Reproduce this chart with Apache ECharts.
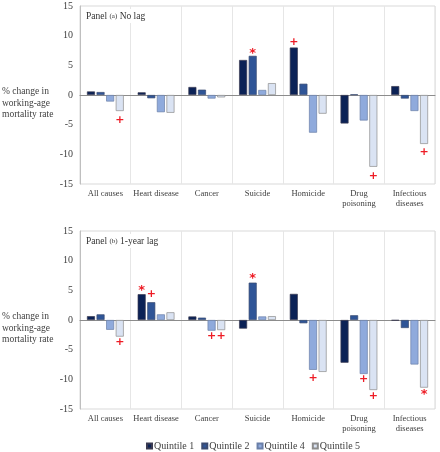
<!DOCTYPE html>
<html><head><meta charset="utf-8">
<script src="https://cdn.jsdelivr.net/npm/echarts@6/dist/echarts.min.js"></script>
<style>html,body{margin:0;padding:0;background:#fff}#c{width:440px;height:452px}</style>
</head><body><div id="c"></div>
<script>
var categories = ['All causes', 'Heart disease', 'Cancer', 'Suicide', 'Homicide', 'Drug\npoisoning', 'Infectious\ndiseases'];
var quintileNames = ['Quintile 1', 'Quintile 2', 'Quintile 4', 'Quintile 5'];
var yTicks = [-15, -10, -5, 0, 5, 10, 15];

// Panel (a) No lag
var a_q1 = [0.6, 0.45, 1.35, 5.9, 8.0, -4.8, 1.5];
var a_q2 = [0.5, -0.55, 0.9, 6.6, 1.9, 0.1, -0.6];
var a_q4 = [-1.1, -2.9, -0.6, 0.85, -6.35, -4.3, -2.7];
var a_q5 = [-2.7, -3.0, -0.4, 2.0, -3.15, -12.1, -8.25];
// markers: [category index, quintile index, value, glyph]
var a_marks = [[0, 3, -4.2, '+'], [3, 1, 7.5, '*'], [4, 0, 8.9, '+'], [5, 3, -13.6, '+'], [6, 3, -9.7, '+']];

// Panel (b) 1-year lag
var b_q1 = [0.65, 4.35, 0.6, -1.45, 4.4, -7.2, -0.1];
var b_q2 = [0.95, 3.0, 0.4, 6.3, -0.55, 0.8, -1.35];
var b_q4 = [-1.65, 0.95, -1.8, 0.6, -8.4, -9.1, -7.5];
var b_q5 = [-2.8, 1.3, -1.7, 0.65, -8.75, -11.8, -11.4];
var b_marks = [[0, 3, -3.7, '+'], [1, 0, 5.5, '*'], [1, 1, 4.3, '+'], [2, 2, -2.7, '+'], [2, 3, -2.7, '+'], [3, 1, 7.5, '*'], [4, 2, -9.8, '+'], [5, 2, -10.0, '+'], [5, 3, -12.9, '+'], [6, 3, -12.0, '*']];

var colors = ['#0b2256', '#2f5597', '#8faadc', '#dae3f3'];
var borders = ['#3a3a50', '#3a4a70', '#6a7fa8', '#8c8c8c'];
var FONT = 'Liberation Serif';

var chart = echarts.init(document.getElementById('c'), null, {renderer: 'canvas'});

function makeGrid(top) {
  return {left: 80, right: 5, top: top, height: 178, show: true, borderColor: '#d9d9d9', borderWidth: 1, containLabel: false};
}
function makeX(gi) {
  return {
    type: 'category', gridIndex: gi, data: categories, position: 'bottom',
    axisLine: {onZero: true, lineStyle: {color: '#8c8c8c', width: 1}},
    axisTick: {show: false},
    splitLine: {show: true, lineStyle: {color: '#e6e6e6', width: 1}},
    axisLabel: {interval: 0, fontFamily: FONT, fontSize: 8.5, color: '#404040', margin: 5, lineHeight: 10}
  };
}
function makeY(gi) {
  return {
    type: 'value', gridIndex: gi, min: yTicks[0], max: yTicks[yTicks.length - 1], interval: 5,
    axisLine: {show: true, lineStyle: {color: '#bfbfbf'}},
    axisTick: {show: false}, splitLine: {show: false},
    axisLabel: {fontFamily: FONT, fontSize: 10, color: '#404040', margin: 7}
  };
}
function makeSeries(gi, arrs, marks) {
  return arrs.map(function (arr, qi) {
    var mp = marks.filter(function (m) { return m[1] === qi; }).map(function (m) {
      return {coord: [m[0], m[2]], value: m[3],
        label: {formatter: m[3], offset: m[3] === '*' ? [0, 3] : [0, 0], fontSize: m[3] === '*' ? 13 : 11}};
    });
    return {
      name: quintileNames[qi], type: 'bar', xAxisIndex: gi, yAxisIndex: gi,
      data: arr, barWidth: 8, barGap: '20%',
      itemStyle: {color: colors[qi], borderColor: borders[qi], borderWidth: 0.7},
      markPoint: {
        symbol: 'rect', symbolSize: 1, itemStyle: {color: 'rgba(0,0,0,0)'},
        label: {show: true, color: '#ee1c25', fontFamily: 'DejaVu Sans', fontWeight: 'bold', position: 'inside'},
        data: mp
      }
    };
  });
}

var titleStyle = function (panel, rest) {
  return {text: 'Panel {s|' + panel + '} ' + rest, font: '9.5px "Liberation Serif"', fill: '#333',
    backgroundColor: '#ffffff', padding: [2, 2, 2, 2],
    rich: {s: {fontFamily: FONT, fontSize: 7, fill: '#333'}}};
};

var option = {
  animation: false,
  backgroundColor: '#ffffff',
  grid: [makeGrid(6), makeGrid(231)],
  xAxis: [makeX(0), makeX(1)],
  yAxis: [makeY(0), makeY(1)],
  legend: {
    data: quintileNames, top: 436, left: 141, itemWidth: 5, itemHeight: 5, itemGap: 7,
    icon: 'rect',
    textStyle: {fontFamily: FONT, fontSize: 10, color: '#404040', padding: [0, 0, 0, -3]}
  },
  graphic: [
    {type: 'text', left: 2, top: 86, style: {text: '% change in\nworking-age\nmortality rate', font: '9.5px "Liberation Serif"', fill: '#404040', lineHeight: 11.5}},
    {type: 'text', left: 2, top: 311, style: {text: '% change in\nworking-age\nmortality rate', font: '9.5px "Liberation Serif"', fill: '#404040', lineHeight: 11.5}},
    {type: 'text', left: 84, top: 9, z: 100, style: titleStyle('(a)', 'No lag')},
    {type: 'text', left: 84, top: 234, z: 100, style: titleStyle('(b)', '1-year lag')}
  ],
  series: makeSeries(0, [a_q1, a_q2, a_q4, a_q5], a_marks).concat(makeSeries(1, [b_q1, b_q2, b_q4, b_q5], b_marks))
};
chart.setOption(option);
</script></body></html>
